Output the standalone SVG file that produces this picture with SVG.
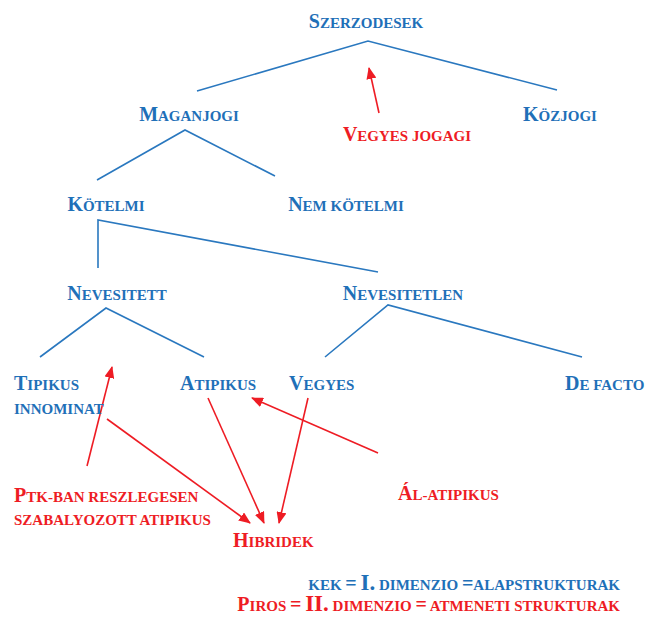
<svg xmlns="http://www.w3.org/2000/svg" width="646" height="617" viewBox="0 0 646 617">
<style>
text{font-family:"Liberation Serif","Times New Roman",serif;font-weight:bold;font-size:15px}
.L{font-size:20px}
.big{font-size:23px}
.b{fill:#1f70b8}
.r{fill:#ee1c24}
.c{text-anchor:middle}
.bl{stroke:#2a78bf;stroke-width:1.6;fill:none}
.rl{stroke:#ee1c24;stroke-width:1.6;fill:none;marker-end:url(#ah)}
</style>
<defs>
<marker id="ah" viewBox="0 0 12 10" refX="11" refY="5" markerWidth="12" markerHeight="10" markerUnits="userSpaceOnUse" orient="auto">
<path d="M0,0 L12,5 L0,10 Z" fill="#ee1c24"/>
</marker>
</defs>
<rect width="646" height="617" fill="#fff"/>
<g id="connectors">
<polyline class="bl" points="197,91 368,41 557,90"/>
<polyline class="bl" points="97,180 185,130 275,176"/>
<polyline class="bl" points="98,268 98,220 378,272"/>
<polyline class="bl" points="40,357 106,308 204,357"/>
<polyline class="bl" points="325,357 388,305 582,357"/>
<line class="rl" x1="379" y1="113" x2="369" y2="68"/>
<line class="rl" x1="87" y1="466" x2="112" y2="367"/>
<line class="rl" x1="107" y1="419" x2="250" y2="523"/>
<line class="rl" x1="208" y1="398" x2="264" y2="523"/>
<line class="rl" x1="308" y1="398" x2="279" y2="523"/>
<line class="rl" x1="378" y1="453" x2="252" y2="398"/>
</g>
<g id="szerzodesek"><text class="b c" x="366" y="28"><tspan class="L">S</tspan>ZERZODESEK</text></g>
<g id="maganjogi"><text class="b c" x="189" y="121"><tspan class="L">M</tspan>AGANJOGI</text></g>
<g id="vegyes-jogagi"><text class="r c" x="407" y="141"><tspan class="L">V</tspan>EGYES JOGAGI</text></g>
<g id="kozjogi"><text class="b c" x="560" y="121"><tspan class="L">K</tspan>ÖZJOGI</text></g>
<g id="kotelmi"><text class="b c" x="106" y="211"><tspan class="L">K</tspan>ÖTELMI</text></g>
<g id="nem-kotelmi"><text class="b c" x="346" y="211"><tspan class="L">N</tspan>EM KÖTELMI</text></g>
<g id="nevesitett"><text class="b c" x="117" y="300"><tspan class="L">N</tspan>EVESITETT</text></g>
<g id="nevesitetlen"><text class="b c" x="403" y="300"><tspan class="L">N</tspan>EVESITETLEN</text></g>
<g id="tipikus"><text class="b" x="14" y="390"><tspan class="L">T</tspan>IPIKUS</text><text class="b" x="14" y="414">INNOMINAT</text></g>
<g id="atipikus"><text class="b" x="180" y="390"><tspan class="L">A</tspan>TIPIKUS</text></g>
<g id="vegyes"><text class="b" x="289" y="390"><tspan class="L">V</tspan>EGYES</text></g>
<g id="de-facto"><text class="b" x="565" y="390"><tspan class="L">D</tspan>E FACTO</text></g>
<g id="ptk"><text class="r" x="14" y="502"><tspan class="L">P</tspan>TK-BAN RESZLEGESEN</text><text class="r" x="14" y="525">SZABALYOZOTT ATIPIKUS</text></g>
<g id="al-atipikus"><text class="r" x="398" y="500"><tspan class="L">Á</tspan>L-ATIPIKUS</text></g>
<g id="hibridek"><text class="r" x="233" y="547"><tspan class="L">H</tspan>IBRIDEK</text></g>
<g id="legend">
<text class="b" x="620" y="590" text-anchor="end">KEK <tspan class="L">=</tspan> <tspan class="big">I.</tspan> DIMENZIO <tspan class="L">=</tspan>ALAPSTRUKTURAK</text>
<text class="r" x="620" y="611" text-anchor="end"><tspan class="L">P</tspan>IROS <tspan class="L">=</tspan> <tspan class="big">II.</tspan> DIMENZIO <tspan class="L">=</tspan> ATMENETI STRUKTURAK</text>
</g>
</svg>
